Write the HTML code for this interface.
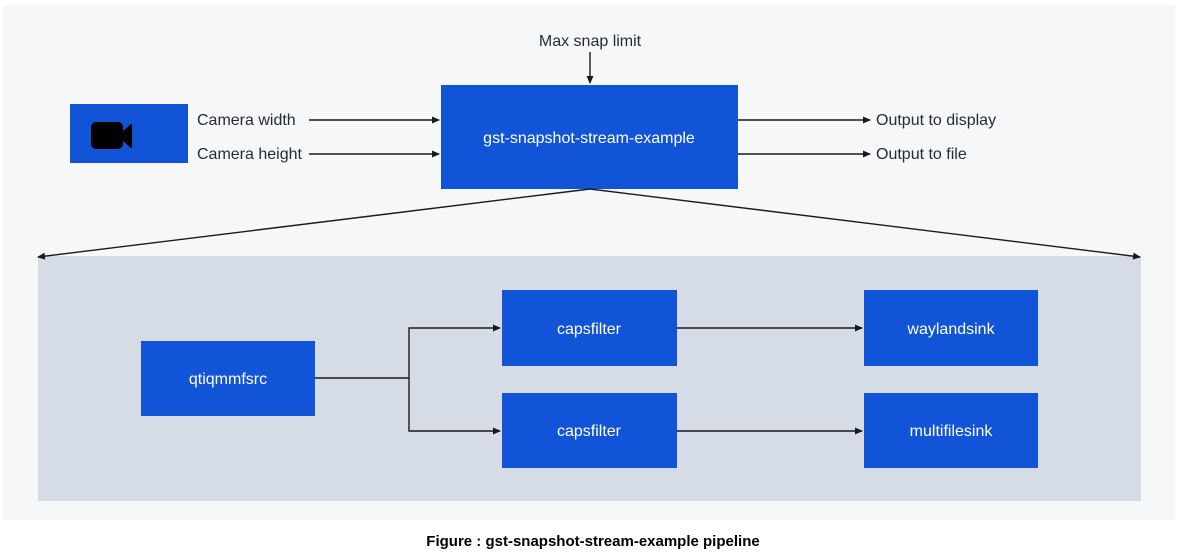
<!DOCTYPE html>
<html><head><style>
html,body{margin:0;padding:0;background:#fff;width:1177px;height:553px;overflow:hidden}
svg text{font-family:"Liberation Sans",sans-serif}
</style></head><body>
<svg width="1177" height="553" viewBox="0 0 1177 553">
<defs><marker id="a" markerWidth="8" markerHeight="8" refX="7" refY="4" orient="auto" markerUnits="userSpaceOnUse"><path d="M0,0.5 L8,4 L0,7.5z" fill="#1a1a1a"/></marker></defs>
<rect x="2" y="5" width="1173" height="515" fill="#f6f7f9"/>
<rect x="38" y="256" width="1103" height="245" fill="#d6dce6"/>
<g fill="#1254d8">
<rect x="70" y="104" width="118" height="59"/>
<rect x="441" y="85" width="297" height="104"/>
<rect x="141" y="341" width="174" height="75"/>
<rect x="502" y="290" width="175" height="76"/>
<rect x="502" y="393" width="175" height="75"/>
<rect x="864" y="290" width="174" height="76"/>
<rect x="864" y="393" width="174" height="75"/>
</g>
<rect x="91" y="122" width="32" height="27" rx="5" fill="#000"/>
<path d="M122,132 L131,124 L132,124 L132,148 L131,148 L122,140z" fill="#000"/>
<g stroke="#1a1a1a" stroke-width="1.4" fill="none" marker-end="url(#a)">
<line x1="590" y1="52" x2="590" y2="83"/>
<line x1="309" y1="120" x2="439" y2="120"/>
<line x1="309" y1="154" x2="439" y2="154"/>
<line x1="738" y1="120" x2="870" y2="120"/>
<line x1="738" y1="154" x2="870" y2="154"/>
<line x1="590" y1="189" x2="38" y2="257"/>
<line x1="590" y1="189" x2="1140" y2="257"/>
<polyline points="315,378 409,378 409,328 500,328"/>
<polyline points="409,378 409,431 500,431"/>
<line x1="677" y1="328" x2="862" y2="328"/>
<line x1="677" y1="431" x2="862" y2="431"/>
</g>
<g font-size="16" fill="#1f2a3a">
<text x="590" y="46" text-anchor="middle">Max snap limit</text>
<text x="197" y="125">Camera width</text>
<text x="197" y="159">Camera height</text>
<text x="876" y="125">Output to display</text>
<text x="876" y="159">Output to file</text>
</g>
<g font-size="16" fill="#fff" text-anchor="middle">
<text x="589" y="143">gst-snapshot-stream-example</text>
<text x="228" y="384">qtiqmmfsrc</text>
<text x="589" y="334">capsfilter</text>
<text x="589" y="436">capsfilter</text>
<text x="951" y="334">waylandsink</text>
<text x="951" y="436">multifilesink</text>
</g>
<text x="593" y="546" text-anchor="middle" font-size="15" font-weight="bold" fill="#000">Figure : gst-snapshot-stream-example pipeline</text>
</svg>
</body></html>
